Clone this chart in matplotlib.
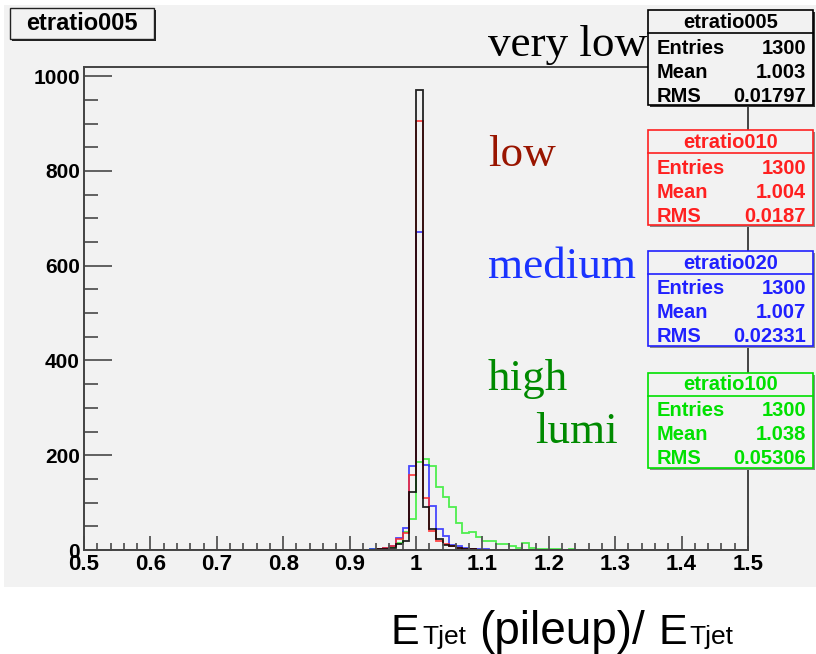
import matplotlib
matplotlib.use("Agg")
import matplotlib.pyplot as plt
from matplotlib.patches import Rectangle
import numpy as np

# 100 bins of 0.01 between 0.5 and 1.5
x_lo, x_hi, n_bins = 0.5, 1.5, 100

# counts per bin (row = 10 bins, first row starts at 0.50)
etratio005 = [
    0, 0, 0, 0, 0, 0, 0, 0, 0, 0,
    0, 0, 0, 0, 0, 0, 0, 0, 0, 0,
    0, 0, 0, 0, 0, 0, 0, 0, 0, 0,
    0, 0, 0, 0, 0, 0, 0, 0, 0, 0,
    0, 1, 0, 1, 2, 3, 5, 13, 20, 122,
    971, 90, 44, 23, 11, 8, 5, 3, 2, 1,
    0, 1, 0, 0, 0, 0, 0, 0, 0, 0,
    0, 0, 0, 0, 0, 0, 0, 0, 0, 0,
    0, 0, 0, 0, 0, 0, 0, 0, 0, 0,
    0, 0, 0, 0, 0, 0, 0, 0, 0, 0,
]
etratio010 = [
    0, 0, 0, 0, 0, 0, 0, 0, 0, 0,
    0, 0, 0, 0, 0, 0, 0, 0, 0, 0,
    0, 0, 0, 0, 0, 0, 0, 0, 0, 0,
    0, 0, 0, 0, 0, 0, 0, 1, 0, 0,
    0, 0, 0, 1, 2, 4, 8, 23, 35, 158,
    905, 109, 41, 20, 13, 8, 5, 3, 2, 1,
    1, 0, 0, 1, 0, 0, 0, 0, 0, 0,
    0, 0, 0, 0, 0, 0, 0, 0, 0, 0,
    0, 0, 0, 0, 0, 0, 0, 0, 0, 0,
    0, 0, 0, 0, 0, 0, 0, 1, 0, 0,
]
etratio020 = [
    0, 0, 0, 0, 0, 0, 0, 0, 0, 0,
    0, 0, 1, 0, 0, 0, 0, 0, 0, 0,
    0, 0, 0, 0, 0, 0, 0, 0, 0, 0,
    0, 0, 0, 0, 0, 0, 0, 0, 0, 0,
    0, 1, 1, 2, 3, 5, 9, 25, 47, 177,
    671, 179, 93, 44, 30, 11, 8, 5, 3, 2,
    2, 1, 0, 1, 0, 1, 0, 0, 0, 0,
    0, 0, 0, 0, 0, 0, 0, 0, 1, 0,
    0, 0, 0, 0, 0, 0, 0, 0, 0, 0,
    0, 0, 0, 0, 0, 0, 0, 0, 0, 0,
]
etratio100 = [
    0, 0, 0, 0, 0, 0, 0, 1, 1, 0,
    0, 0, 0, 1, 1, 0, 0, 0, 0, 0,
    1, 0, 0, 0, 0, 0, 0, 0, 1, 0,
    0, 0, 0, 0, 0, 0, 0, 0, 0, 0,
    1, 0, 1, 2, 3, 4, 7, 15, 38, 65,
    186, 191, 177, 134, 111, 90, 58, 36, 37, 27,
    20, 20, 13, 13, 9, 5, 14, 4, 3, 3,
    2, 2, 1, 2, 0, 1, 0, 0, 1, 0,
    0, 0, 1, 0, 0, 1, 0, 0, 0, 0,
    1, 0, 0, 0, 0, 0, 0, 0, 0, 0,
]

names = ["etratio005", "etratio010", "etratio020", "etratio100"]
entries = ["1300", "1300", "1300", "1300"]
means = ["1.003", "1.004", "1.007", "1.038"]
rms = ["0.01797", "0.0187", "0.02331", "0.05306"]
line_colors = ["#000000", "#ff2a2a", "#2a2aff", "#33ee33"]
box_colors = ["#000000", "#ff2020", "#2020ff", "#00e000"]

labels = ["very low", "low", "medium", "high", "lumi"]
label_colors = ["#000000", "#991500", "#1a33ff", "#008a00", "#008a00"]

W, H = 816, 654
bg = "#f2f2f2"

fig = plt.figure(figsize=(W / 100, H / 100), dpi=100)
fig.patch.set_facecolor("white")


def fx(px):
    return px / W


def fy(py):
    return 1 - py / H


# grey canvas
fig.patches.append(Rectangle((fx(4), fy(587)), fx(W - 4), fy(5) - fy(587),
                             transform=fig.transFigure, facecolor=bg,
                             edgecolor="none", zorder=-10))

ax = fig.add_axes([fx(84), fy(550), fx(748 - 84), fy(66.7) - fy(550)])
ax.set_facecolor(bg)
ax.set_zorder(1)

edges = np.linspace(x_lo, x_hi, n_bins + 1)
for counts, c in zip([etratio100, etratio020, etratio010, etratio005],
                     [line_colors[3], line_colors[2], line_colors[1], line_colors[0]]):
    ax.stairs(counts, edges, color=c, lw=1.3, alpha=0.85)

ax.set_xlim(x_lo, x_hi)
ax.set_ylim(0, 1020)
ax.set_xticks(np.arange(0.5, 1.51, 0.1))
ax.set_xticklabels(["0.5", "0.6", "0.7", "0.8", "0.9", "1", "1.1", "1.2", "1.3", "1.4", "1.5"])
ax.set_xticks(np.arange(0.5, 1.5, 0.02), minor=True)
ax.set_yticks([0, 200, 400, 600, 800, 1000])
ax.set_yticks(np.arange(0, 1001, 50), minor=True)
ax.tick_params(axis="both", which="both", direction="in", color="#555555", width=1.3)
ax.tick_params(axis="x", which="major", length=10, pad=3)
ax.tick_params(axis="x", which="minor", length=5)
ax.tick_params(axis="y", which="major", length=20, pad=3)
ax.tick_params(axis="y", which="minor", length=10)
for lab in ax.get_xticklabels():
    lab.set_fontfamily("Liberation Sans")
    lab.set_fontweight("bold")
    lab.set_fontsize(16)
for lab in ax.get_yticklabels():
    lab.set_fontfamily("Liberation Sans")
    lab.set_fontweight("bold")
    lab.set_fontsize(15)
for s in ax.spines.values():
    s.set_color("#444444")
    s.set_linewidth(1.4)

# title box
fig.patches.append(Rectangle((fx(12), fy(41)), fx(144), fy(10) - fy(41),
                             transform=fig.transFigure, facecolor="#222222",
                             edgecolor="none", zorder=5))
fig.patches.append(Rectangle((fx(10), fy(39)), fx(144), fy(8) - fy(39),
                             transform=fig.transFigure, facecolor=bg,
                             edgecolor="#222222", lw=1, zorder=6))
fig.text(fx(82), fy(24), "etratio005", ha="center", va="center",
         family="Liberation Sans", weight="bold", fontsize=17, zorder=7)

# stat boxes
box_tops = [10, 130, 251, 373]
bx0, bx1, bh = 648, 813, 95
for k in range(4):
    top = box_tops[k]
    col = box_colors[k]
    fig.patches.append(Rectangle((fx(bx0 + 2), fy(top + bh + 2)), fx(bx1 - bx0), fy(top + 2) - fy(top + bh + 2),
                                 transform=fig.transFigure, facecolor="#333333" if k == 0 else "#888888",
                                 edgecolor="none", zorder=5))
    fig.patches.append(Rectangle((fx(bx0), fy(top + bh)), fx(bx1 - bx0), fy(top) - fy(top + bh),
                                 transform=fig.transFigure, facecolor=bg,
                                 edgecolor=col, lw=1.2, zorder=6))
    fig.lines.append(plt.Line2D([fx(bx0), fx(bx1)], [fy(top + 23), fy(top + 23)],
                                transform=fig.transFigure, color=col, lw=1.2, zorder=7))
    fig.text(fx((bx0 + bx1) / 2), fy(top + 12), names[k], ha="center", va="center",
             color=col, family="Liberation Sans", weight="bold", fontsize=14.5, zorder=8)
    rows = [("Entries", entries[k]), ("Mean", means[k]), ("RMS", rms[k])]
    for r, (key, val) in enumerate(rows):
        yy = fy(top + 38 + 24 * r)
        fig.text(fx(657), yy, key, ha="left", va="center", color=col,
                 family="Liberation Sans", weight="bold", fontsize=14.5, zorder=8)
        fig.text(fx(806), yy, val, ha="right", va="center", color=col,
                 family="Liberation Sans", weight="bold", fontsize=14.5, zorder=8)

# luminosity labels
label_pos = [(488, 56), (488, 166), (488, 278), (488, 390), (535, 443)]
for txt, c, (px, py) in zip(labels, label_colors, label_pos):
    fig.text(fx(px), fy(py), txt, ha="left", va="baseline", color=c,
             family="Liberation Serif", fontsize=32.5, zorder=9)

# x-axis title, pieces share one baseline
xtitle = [("E", 391, 31), ("Tjet", 422, 19), ("(pileup)/", 479, 33),
          ("E", 658, 31), ("Tjet", 689, 19)]
for txt, px, fs in xtitle:
    fig.text(fx(px), fy(644), txt, ha="left", va="baseline",
             family="Liberation Sans", fontsize=fs)

fig.savefig("out.png", dpi=100)
